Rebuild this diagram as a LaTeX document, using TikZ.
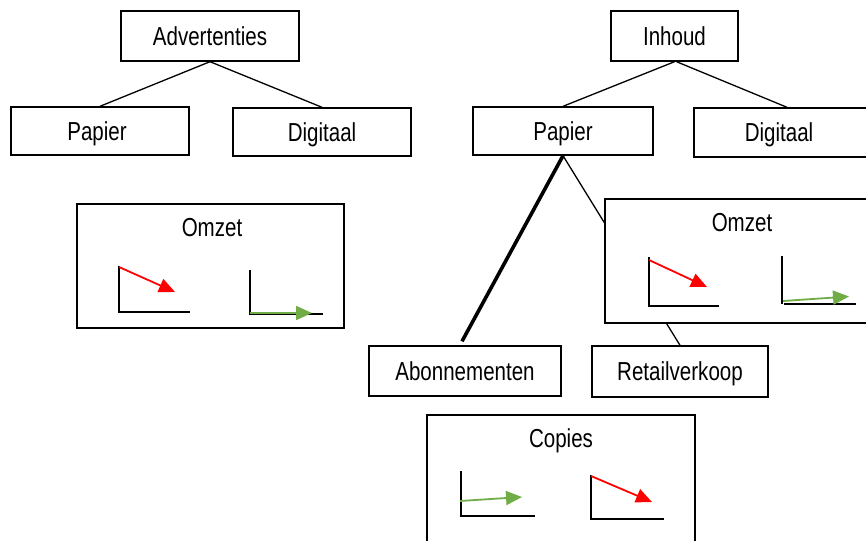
\documentclass[tikz,border=0pt]{standalone}
\usepackage{fontspec}
\setmainfont{Liberation Sans}[FakeStretch=0.79]
\usetikzlibrary{arrows.meta}
\definecolor{grn}{RGB}{112,173,71}
\begin{document}
\begin{tikzpicture}[x=1pt,y=-1pt,
  box/.style={draw=black,line width=1.4pt,fill=white,rectangle,inner sep=0pt,text height=18.6pt,text depth=0pt,font=\fontsize{26}{30}\selectfont},
  conn/.style={line width=1.3pt},
  axis/.style={line width=1.7pt,line cap=rect},
  arr/.style={line width=1.8pt,-{Triangle[length=16pt,width=14pt]}},
  ttl/.style={font=\fontsize{26}{30}\selectfont,inner sep=0pt}]
\useasboundingbox (0,0) rectangle (866,540);
\clip (0,0) rectangle (866,540);
% top-level boxes
\node[box,minimum width=178pt,minimum height=50pt] (adv) at (210,36) {Advertenties};
\node[box,minimum width=178pt,minimum height=48pt] (papL) at (100,131) {\hspace*{-6pt}Papier};
\node[box,minimum width=178pt,minimum height=48pt] (digL) at (322,132) {Digitaal};
\node[box,minimum width=127pt,minimum height=50pt] (inh) at (674.5,36) {Inhoud};
\node[box,minimum width=180pt,minimum height=48pt] (papR) at (563,131) {Papier};
\node[box,minimum width=178pt,minimum height=49pt] (digR) at (783,132.5) {\hspace*{-8pt}Digitaal};
\node[box,minimum width=192pt,minimum height=50pt] (abo) at (465,371) {Abonnementen};
\node[box,minimum width=176pt,minimum height=51pt] (ret) at (680,371.5) {Retailverkoop};
% connectors
\draw[conn] (adv.south) -- (papL.north);
\draw[conn] (adv.south) -- (digL.north);
\draw[conn] (inh.south) -- (papR.north);
\draw[conn] ([xshift=2pt]inh.south) -- ([xshift=4pt]digR.north);
\draw[line width=3.6pt] (papR.south) -- ([xshift=-3pt,yshift=4pt]abo.north);
\draw[conn] (papR.south) -- (ret.north);
% Omzet left
\node[box,minimum width=267pt,minimum height=124pt] (omzL) at (210.5,266) {};
\node[ttl] (omzLt) at (212,228) {Omzet};
\draw[axis] (119,267) -- (119,312) -- (189,312);
\draw[arr,red] (119,267) -- (175,292);
\draw[axis] (250,271) -- (250,314) -- (322,314);
\draw[arr,grn] (250,313) -- (312,313);
% Omzet right (drawn over the connector)
\node[box,minimum width=267pt,minimum height=124pt] (omzR) at (738.5,261) {};
\node[ttl] (omzRt) at (742,223) {Omzet};
\draw[axis] (649,258) -- (649,306) -- (718,306);
\draw[arr,red] (649,260) -- (707,287);
\draw[axis] (782,257) -- (782,303);
\draw[axis] (785,304) -- (855,304);
\draw[arr,grn] (783,301) -- (849,296.5);
% Copies
\node[box,minimum width=268pt,minimum height=130pt] (cop) at (561,480) {};
\node[ttl] (copt) at (561,441) {Copies};
\draw[axis] (461,472) -- (461,516) -- (534,516);
\draw[arr,grn] (460,501) -- (522,497);
\draw[axis] (591,476) -- (591,519) -- (663,519);
\draw[arr,red] (591,476) -- (652,502);
\end{tikzpicture}
\end{document}
